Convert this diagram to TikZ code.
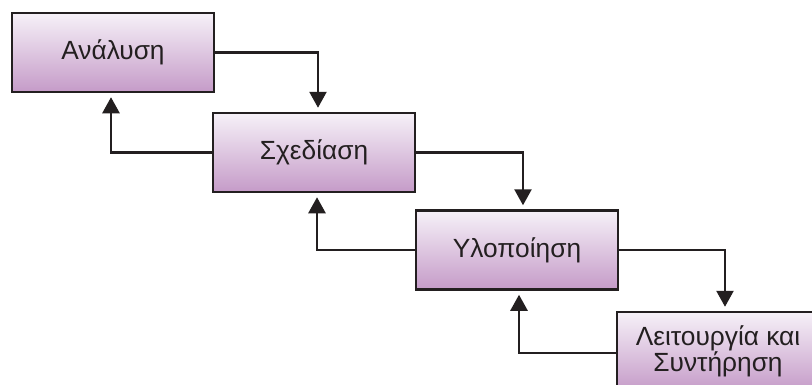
\documentclass[tikz,border=0pt]{standalone}
\usepackage{fontspec}
\setmainfont{Liberation Sans}
\usetikzlibrary{arrows.meta}
\definecolor{edge}{HTML}{231F20}
\definecolor{topc}{HTML}{F6F1F8}
\definecolor{botc}{HTML}{C59BC8}
\tikzset{
  phase/.style={draw=edge, line width=2.5pt, top color=topc, bottom color=botc,
    minimum width=202pt, minimum height=79pt, inner sep=0pt, text=edge,
    font=\fontsize{26.3}{26}\selectfont, align=center},
  flow/.style={draw=edge, line width=2.5pt, -{Triangle[width=17pt,length=16pt]}, shorten >=4pt}
}
\begin{document}
\begin{tikzpicture}[x=1pt,y=-1pt]
\useasboundingbox (0,0) rectangle (812,384);
\clip (0,0) rectangle (812,384);
\fill[white] (0,0) rectangle (812,384);
\node[phase] (b1) at (113,52.5) {Ανάλυση};
\node[phase] (b2) at (314,152.5) {Σχεδίαση};
\node[phase] (b3) at (517,250) {Υλοποίηση};
\node[phase] (b4) at (718,351.5) {Λειτουργία και\\Συντήρηση};
\draw[flow] (b1.east) -| ([xshift=4pt]b2.north);
\draw[flow] (b2.west) -| ([xshift=-2pt]b1.south);
\draw[flow] (b2.east) -| ([xshift=6pt]b3.north);
\draw[flow] (b3.west) -| ([xshift=3pt]b2.south);
\draw[flow] (b3.east) -| ([xshift=7pt]b4.north);
\draw[flow] ([yshift=-1.5pt]b4.west) -| ([xshift=2pt]b3.south);
\end{tikzpicture}
\end{document}
